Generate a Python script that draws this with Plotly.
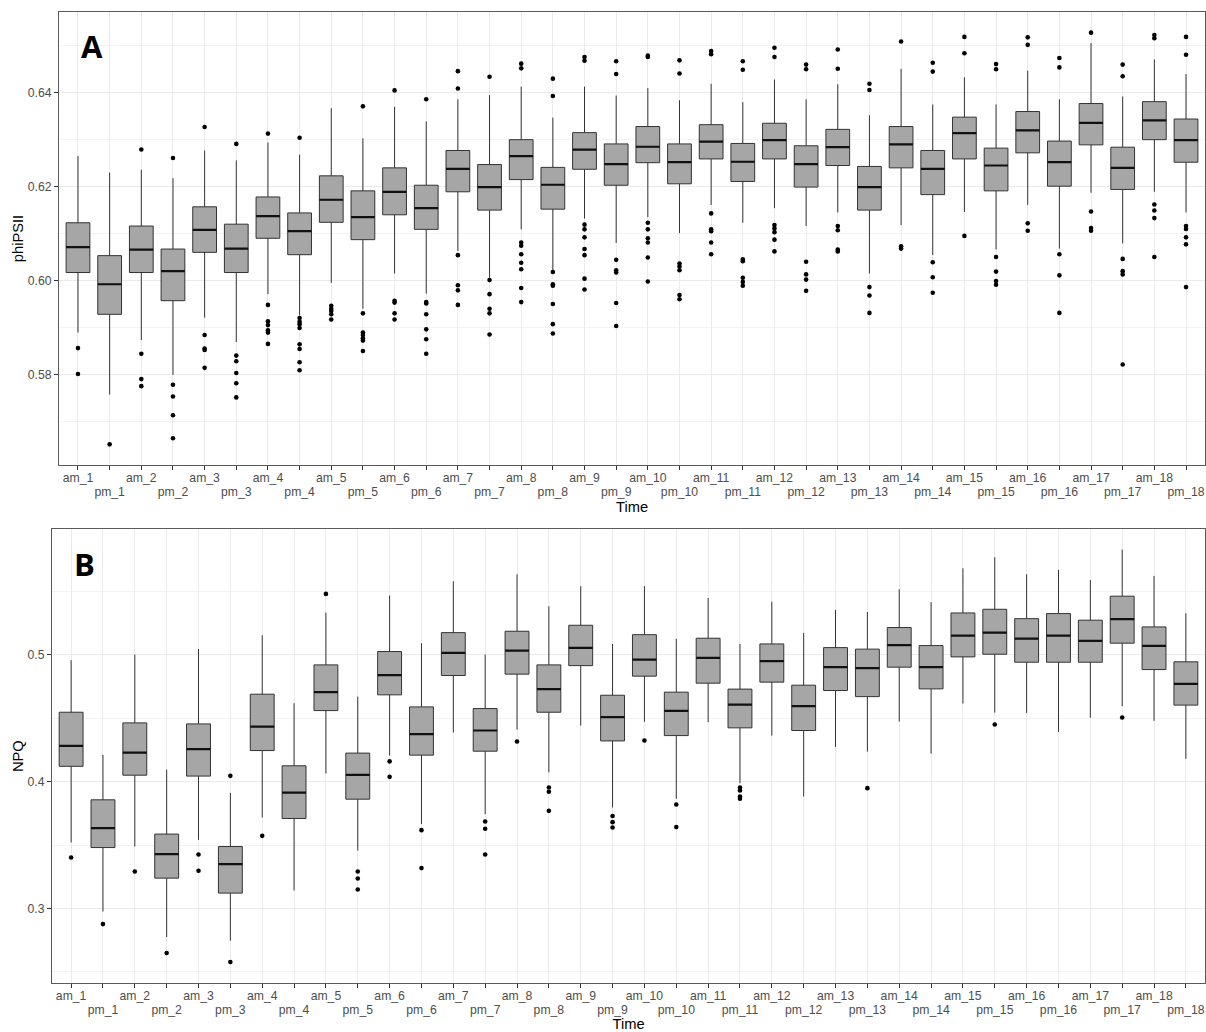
import plotly.graph_objects as go

# ---------------- data ----------------
times = []
for d in range(1, 19):
    times += [f"am_{d}", f"pm_{d}"]
am_labels = [t if t.startswith("am") else "" for t in times]
pm_pos = [i for i, t in enumerate(times) if t.startswith("pm")]
pm_labels = [times[i] for i in pm_pos]

# phiPSII (panel A)
phi_upper = [0.6265, 0.6230, 0.6236, 0.6218, 0.6277, 0.6256, 0.6294, 0.6268, 0.6367, 0.6303,
             0.6370, 0.6339, 0.6386, 0.6395, 0.6413, 0.6347, 0.6413, 0.6394, 0.6410, 0.6384,
             0.6419, 0.6380, 0.6428, 0.6386, 0.6418, 0.6352, 0.6451, 0.6375, 0.6433, 0.6375,
             0.6447, 0.6386, 0.6506, 0.6392, 0.6471, 0.6440]
phi_q3 = [0.6123, 0.6053, 0.6116, 0.6067, 0.6157, 0.6120, 0.6178, 0.6144, 0.6223, 0.6191,
          0.6240, 0.6203, 0.6277, 0.6247, 0.6300, 0.6241, 0.6315, 0.6291, 0.6328, 0.6291,
          0.6332, 0.6292, 0.6335, 0.6287, 0.6322, 0.6243, 0.6328, 0.6277, 0.6348, 0.6282,
          0.6360, 0.6297, 0.6377, 0.6284, 0.6381, 0.6344]
phi_med = [0.6071, 0.5992, 0.6066, 0.6020, 0.6108, 0.6068, 0.6137, 0.6105, 0.6172, 0.6135,
           0.6189, 0.6154, 0.6238, 0.6199, 0.6265, 0.6204, 0.6279, 0.6248, 0.6285, 0.6252,
           0.6296, 0.6253, 0.6299, 0.6248, 0.6284, 0.6199, 0.6290, 0.6238, 0.6314, 0.6245,
           0.6320, 0.6252, 0.6336, 0.6240, 0.6341, 0.6299]
phi_q1 = [0.6017, 0.5928, 0.6017, 0.5957, 0.6060, 0.6017, 0.6090, 0.6055, 0.6124, 0.6087,
          0.6140, 0.6109, 0.6189, 0.6150, 0.6215, 0.6152, 0.6237, 0.6203, 0.6251, 0.6206,
          0.6259, 0.6211, 0.6259, 0.6199, 0.6245, 0.6150, 0.6240, 0.6183, 0.6259, 0.6191,
          0.6272, 0.6201, 0.6289, 0.6194, 0.6300, 0.6252]
phi_lower = [0.5889, 0.5757, 0.5873, 0.5799, 0.5921, 0.5869, 0.5971, 0.5926, 0.5995, 0.5940,
             0.6015, 0.5972, 0.6063, 0.6006, 0.6109, 0.6022, 0.6132, 0.6080, 0.6135, 0.6101,
             0.6161, 0.6123, 0.6154, 0.6116, 0.6145, 0.6015, 0.6118, 0.6054, 0.6146, 0.6066,
             0.6161, 0.6068, 0.6187, 0.6079, 0.6189, 0.6145]
phi_outliers = [
    [0.5856, 0.5801],
    [0.5651],
    [0.6279, 0.5844, 0.5790, 0.5775],
    [0.6261, 0.5778, 0.5753, 0.5713, 0.5664],
    [0.6327, 0.5884, 0.5855, 0.5852, 0.5814],
    [0.6291, 0.5840, 0.5828, 0.5803, 0.5781, 0.5751],
    [0.6313, 0.5948, 0.5913, 0.5905, 0.5894, 0.5889, 0.5865],
    [0.6304, 0.5920, 0.5912, 0.5907, 0.5899, 0.5864, 0.5854, 0.5826, 0.5809],
    [0.5946, 0.5940, 0.5935, 0.5928, 0.5917],
    [0.6371, 0.5930, 0.5889, 0.5884, 0.5877, 0.5872, 0.5850],
    [0.6405, 0.5957, 0.5953, 0.5930, 0.5917],
    [0.6386, 0.5954, 0.5951, 0.5928, 0.5896, 0.5875, 0.5844],
    [0.6446, 0.6409, 0.6054, 0.5990, 0.5979, 0.5948],
    [0.6434, 0.6001, 0.5971, 0.5940, 0.5930, 0.5885],
    [0.6462, 0.6452, 0.6081, 0.6074, 0.6056, 0.6038, 0.6024, 0.5984, 0.5954],
    [0.6430, 0.6393, 0.6018, 0.5992, 0.5989, 0.5950, 0.5907, 0.5887],
    [0.6476, 0.6468, 0.6119, 0.6109, 0.6092, 0.6067, 0.6054, 0.6004, 0.5981],
    [0.6467, 0.6440, 0.6044, 0.6022, 0.6017, 0.5952, 0.5903],
    [0.6479, 0.6476, 0.6123, 0.6109, 0.6090, 0.6081, 0.6049, 0.5998],
    [0.6469, 0.6441, 0.6036, 0.6030, 0.6022, 0.5969, 0.5960],
    [0.6489, 0.6482, 0.6143, 0.6109, 0.6105, 0.6081, 0.6056],
    [0.6467, 0.6449, 0.6045, 0.6041, 0.6006, 0.5997, 0.5989],
    [0.6496, 0.6476, 0.6118, 0.6111, 0.6103, 0.6087, 0.6062],
    [0.6460, 0.6450, 0.6040, 0.6013, 0.6002, 0.5978],
    [0.6492, 0.6451, 0.6116, 0.6107, 0.6066, 0.6062],
    [0.6419, 0.6406, 0.5986, 0.5968, 0.5931],
    [0.6509, 0.6073, 0.6068],
    [0.6464, 0.6445, 0.6039, 0.6007, 0.5974],
    [0.6519, 0.6484, 0.6095],
    [0.6461, 0.6450, 0.6050, 0.6019, 0.5999, 0.5991],
    [0.6518, 0.6502, 0.6122, 0.6106],
    [0.6474, 0.6454, 0.6056, 0.6011, 0.5931],
    [0.6528, 0.6147, 0.6112, 0.6106],
    [0.6460, 0.6435, 0.6046, 0.6020, 0.6013, 0.5821],
    [0.6523, 0.6516, 0.6162, 0.6149, 0.6133, 0.6050],
    [0.6519, 0.6481, 0.6116, 0.6110, 0.6092, 0.6077, 0.5986],
]

# NPQ (panel B)
npq_upper = [0.4956, 0.4210, 0.5000, 0.4094, 0.5043, 0.3911, 0.5153, 0.4617, 0.5331, 0.4669,
             0.5465, 0.5090, 0.5578, 0.5000, 0.5633, 0.5381, 0.5539, 0.5084, 0.5539, 0.5124,
             0.5446, 0.5084, 0.5417, 0.5171, 0.5352, 0.5336, 0.5515, 0.5413, 0.5680, 0.5767,
             0.5633, 0.5667, 0.5588, 0.5827, 0.5620, 0.5326]
npq_q3 = [0.4546, 0.3856, 0.4462, 0.3586, 0.4454, 0.3488, 0.4688, 0.4124, 0.4919, 0.4224,
          0.5024, 0.4588, 0.5173, 0.4575, 0.5184, 0.4919, 0.5231, 0.4680, 0.5157, 0.4704,
          0.5129, 0.4728, 0.5084, 0.4759, 0.5055, 0.5043, 0.5213, 0.5071, 0.5328, 0.5357,
          0.5283, 0.5323, 0.5271, 0.5460, 0.5218, 0.4943]
npq_med = [0.4281, 0.3633, 0.4228, 0.3428, 0.4255, 0.3350, 0.4433, 0.3913, 0.4704, 0.4053,
           0.4838, 0.4373, 0.5013, 0.4402, 0.5031, 0.4728, 0.5053, 0.4507, 0.4961, 0.4557,
           0.4974, 0.4606, 0.4948, 0.4594, 0.4901, 0.4893, 0.5074, 0.4901, 0.5150, 0.5173,
           0.5126, 0.5150, 0.5108, 0.5279, 0.5069, 0.4769]
npq_q1 = [0.4120, 0.3480, 0.4050, 0.3239, 0.4043, 0.3121, 0.4244, 0.3709, 0.4559, 0.3861,
          0.4683, 0.4208, 0.4835, 0.4239, 0.4846, 0.4546, 0.4913, 0.4320, 0.4830, 0.4362,
          0.4775, 0.4423, 0.4783, 0.4402, 0.4717, 0.4669, 0.4901, 0.4730, 0.4982, 0.5003,
          0.4940, 0.4940, 0.4940, 0.5090, 0.4882, 0.4602]
npq_lower = [0.3520, 0.2976, 0.3488, 0.2775, 0.3541, 0.2746, 0.3717, 0.3142, 0.4063, 0.3457,
             0.4205, 0.3665, 0.4386, 0.3743, 0.4409, 0.4072, 0.4441, 0.3795, 0.4470, 0.3864,
             0.4468, 0.3987, 0.4362, 0.3882, 0.4273, 0.4236, 0.4472, 0.4220, 0.4614, 0.4543,
             0.4539, 0.4391, 0.4502, 0.4594, 0.4478, 0.4179]
npq_outliers = [
    [0.3402], [0.2877], [0.3291], [0.2649], [0.3425, 0.3297], [0.4045, 0.2578],
    [0.3572], [], [0.5478], [0.3291, 0.3236, 0.3150], [0.4159, 0.4037], [0.3617, 0.3318],
    [], [0.3685, 0.3628, 0.3425], [0.4315], [0.3953, 0.3919, 0.3769], [], [0.3728, 0.3680, 0.3638],
    [0.4323], [0.3819, 0.3641], [], [0.3953, 0.3929, 0.3882, 0.3864], [], [],
    [], [0.3948], [], [], [], [0.4449],
    [], [], [], [0.4504], [], [],
]

# ---------------- style ----------------
FONT = "Liberation Sans, Arial, sans-serif"
BOX_FILL = "#A6A6A6"
BOX_LINE = "#333333"
GRID = "#EBEBEB"
BORDER = "#5a5a5a"
TICKCOL = "#4D4D4D"
TICKSIZE = 12.2
TITLESIZE = 14.7

fig = go.Figure()


def add_panel(xa, ya, xpm_axis, upper, q3, med, q1, lower, outliers):
    fig.add_trace(go.Box(
        x=times, q1=q1, median=med, q3=q3, lowerfence=lower, upperfence=upper,
        xaxis=xa, yaxis=ya, width=0.75, whiskerwidth=0,
        fillcolor=BOX_FILL, line=dict(color=BOX_LINE, width=1),
        boxpoints=False, showlegend=False, hoverinfo="skip",
    ))
    # thicker median bar (degenerate box at the median)
    fig.add_trace(go.Box(
        x=times, q1=med, median=med, q3=med, lowerfence=med, upperfence=med,
        xaxis=xa, yaxis=ya, width=0.75, whiskerwidth=0,
        fillcolor="rgba(0,0,0,0)", line=dict(color="#111111", width=2.2),
        boxpoints=False, showlegend=False, hoverinfo="skip",
    ))
    ox, oy = [], []
    for t, vals in zip(times, outliers):
        for v in vals:
            ox.append(t)
            oy.append(v)
    fig.add_trace(go.Scatter(
        x=ox, y=oy, mode="markers", xaxis=xa, yaxis=ya,
        marker=dict(color="black", size=4.6), showlegend=False, hoverinfo="skip",
    ))
    # empty trace that registers the overlaying axis carrying the pm_* label row
    fig.add_trace(go.Scatter(x=[], y=[], xaxis=xpm_axis, yaxis=ya, mode="markers",
                             showlegend=False, hoverinfo="skip"))


add_panel("x", "y", "x3", phi_upper, phi_q3, phi_med, phi_q1, phi_lower, phi_outliers)
add_panel("x2", "y2", "x4", npq_upper, npq_q3, npq_med, npq_q1, npq_lower, npq_outliers)

xcommon = dict(
    type="category", categoryorder="array", categoryarray=times,
    tickmode="array", tickvals=times, ticktext=am_labels, tickangle=0,
    ticklabelstandoff=-3,
    range=[-0.6, 35.6], showgrid=True, gridcolor=GRID, gridwidth=1,
    showline=True, linecolor=BORDER, linewidth=1, mirror=True,
    ticks="outside", ticklen=4, tickcolor="#333333", tickwidth=1,
    tickfont=dict(family=FONT, size=TICKSIZE, color=TICKCOL),
    zeroline=False, automargin=False,
)
# second label row (pm_*) on an overlaying axis sharing the same positions
xpm = dict(
    type="linear", range=[-0.6, 35.6], tickmode="array", tickvals=pm_pos, ticktext=pm_labels,
    tickangle=0, ticks="", showgrid=False, showline=False, zeroline=False,
    ticklabelstandoff=18, automargin=False,
    tickfont=dict(family=FONT, size=TICKSIZE, color=TICKCOL),
    title=dict(text="Time", font=dict(family=FONT, size=TITLESIZE, color="black"), standoff=3),
)
ycommon = dict(
    showgrid=True, gridcolor=GRID, gridwidth=1,
    showline=True, linecolor=BORDER, linewidth=1, mirror=True,
    ticks="outside", ticklen=4, tickcolor="#333333", tickwidth=1,
    tickfont=dict(family=FONT, size=TICKSIZE, color=TICKCOL),
    zeroline=False, automargin=False,
)

W, H = 1206, 1032
ML, MR, MT, MB = 52, 1, 12, 49
pw = W - ML - MR
ph = H - MT - MB
xdomA = [(59 - ML) / pw, 1.0]
xdomB = [0.0, 1.0]

fig.update_layout(
    width=W, height=H,
    margin=dict(l=ML, r=MR, t=MT, b=MB),
    paper_bgcolor="white", plot_bgcolor="white",
    boxmode="overlay",
    font=dict(family=FONT),
    xaxis=dict(xcommon, domain=xdomA, anchor="y"),
    xaxis3=dict(xpm, domain=xdomA, anchor="y", overlaying="x", side="bottom"),
    yaxis=dict(ycommon, domain=[(H - MB - 465) / ph, 1.0], anchor="x",
               range=[0.5607, 0.6572], tick0=0.58, dtick=0.02, tickformat=".2f",
               minor=dict(dtick=0.01, tick0=0.57, showgrid=True, gridcolor="#F3F3F3", gridwidth=0.6),
               title=dict(text="phiPSII", font=dict(family=FONT, size=TITLESIZE, color="black"), standoff=0)),
    xaxis2=dict(xcommon, domain=xdomB, anchor="y2"),
    xaxis4=dict(xpm, domain=xdomB, anchor="y2", overlaying="x2", side="bottom"),
    yaxis2=dict(ycommon, domain=[0.0, (H - MB - 529.3) / ph], anchor="x2",
                range=[0.2413, 0.5987], tick0=0.3, dtick=0.1, tickformat=".1f",
                minor=dict(dtick=0.05, tick0=0.25, showgrid=True, gridcolor="#F3F3F3", gridwidth=0.6),
                title=dict(text="NPQ", font=dict(family=FONT, size=TITLESIZE, color="black"), standoff=0)),
    annotations=[
        dict(text="<b>A</b>", xref="x domain", yref="y domain", x=0.0288, y=0.925,
             showarrow=False, xanchor="center", yanchor="middle",
             font=dict(family="Open Sans, sans-serif", size=31, color="black")),
        dict(text="<b>B</b>", xref="x2 domain", yref="y2 domain", x=0.0286, y=0.9236,
             showarrow=False, xanchor="center", yanchor="middle",
             font=dict(family="Open Sans, sans-serif", size=31, color="black")),
    ],
)

fig.write_html("out.html")
